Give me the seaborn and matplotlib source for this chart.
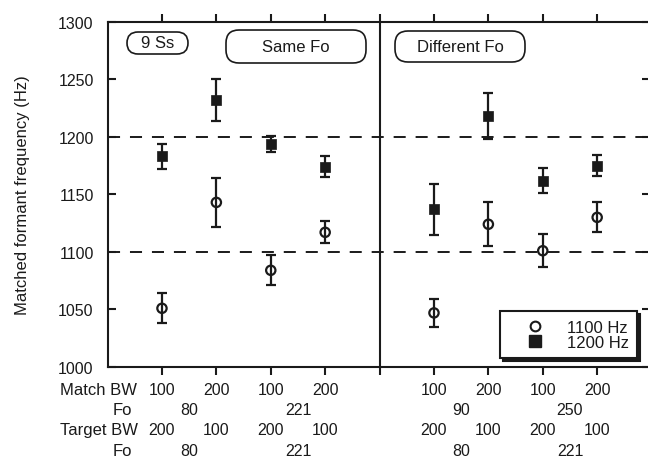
import pandas as pd
import matplotlib.pyplot as plt
import seaborn as sns
from matplotlib.lines import Line2D
from matplotlib.patches import FancyBboxPatch

# condition slots on the x axis (slot 5 is the panel divider)
slot = [1, 2, 3, 4, 6, 7, 8, 9]

# matched formant frequency (Hz), means and error bars
mean_1100 = [1051, 1143, 1084, 1117, 1047, 1124, 1101, 1130]
err_1100 = [13, 21.5, 13, 9.5, 12, 19, 14.5, 13]
mean_1200 = [1183, 1232, 1194, 1174, 1137, 1218, 1162, 1175]
err_1200 = [11, 18, 7, 9, 22, 20, 10.5, 9]

# condition table under the axis
match_bw = [100, 200, 100, 200, 100, 200, 100, 200]
target_bw = [200, 100, 200, 100, 200, 100, 200, 100]
fo_slot = [1.5, 3.5, 6.5, 8.5]
match_fo = [80, 221, 90, 250]
target_fo = [80, 221, 80, 221]

df = pd.DataFrame({
    'slot': slot * 2,
    'freq': mean_1100 + mean_1200,
    'err': err_1100 + err_1200,
    'target': ['1100 Hz'] * len(slot) + ['1200 Hz'] * len(slot),
})
d1100 = df[df['target'] == '1100 Hz']
d1200 = df[df['target'] == '1200 Hz']

sns.set_theme(style='ticks')
plt.rcParams['font.family'] = ['Liberation Sans', 'DejaVu Sans']
plt.rcParams['text.color'] = 'k'
plt.rcParams['axes.labelcolor'] = 'k'
plt.rcParams['xtick.color'] = 'k'
plt.rcParams['ytick.color'] = 'k'

fig = plt.figure(figsize=(6.48, 4.6), dpi=100)
ax = fig.add_axes([0.166, 0.2, 0.837, 0.7507])

# reference lines
ax.axhline(1200, color='k', lw=1.4, ls=(0, (6.2, 5.1)), zorder=1)
ax.axhline(1100, color='k', lw=1.4, ls=(0, (6.2, 5.1)), zorder=1)
ax.axvline(5, color='k', lw=1.5, zorder=1)

# error bars then markers
ax.errorbar(d1100['slot'], d1100['freq'], yerr=d1100['err'], fmt='none',
            ecolor='k', elinewidth=1.6, capsize=3.5, capthick=1.6, zorder=2)
ax.errorbar(d1200['slot'], d1200['freq'], yerr=d1200['err'], fmt='none',
            ecolor='k', elinewidth=1.6, capsize=3.5, capthick=1.6, zorder=2)
sns.scatterplot(data=d1100, x='slot', y='freq', marker='o', s=45,
                facecolor='none', edgecolor='k', linewidth=1.6,
                legend=False, ax=ax, zorder=3)
sns.scatterplot(data=d1200, x='slot', y='freq', marker='s', s=60,
                color='k', edgecolor='k', linewidth=0.5,
                legend=False, ax=ax, zorder=3)

ax.set_xlim(0, 9.97)
ax.set_ylim(1000, 1300)
ax.set_xticks(range(1, 10))
ax.set_xticklabels([])
ax.set_yticks(range(1000, 1301, 50))
ax.tick_params(axis='x', direction='out', top=True, bottom=True,
               length=6, width=1.5, labelbottom=False)
ax.tick_params(axis='y', direction='in', left=True, right=True,
               length=6, width=1.5, pad=10, labelsize=11.5)
for sp in ax.spines.values():
    sp.set_linewidth(1.5)
    sp.set_color('k')
ax.set_xlabel('')
ax.set_ylabel('')
fig.text(22.5 / 648, 1 - 195 / 460, 'Matched formant frequency (Hz)',
         rotation=90, ha='center', va='center', fontsize=12)

# condition table
tr = ax.get_xaxis_transform()
rows_y = [-0.066, -0.122, -0.182, -0.242]
ax.text(0.54, rows_y[0], 'Match BW', transform=tr, ha='right', va='center', fontsize=12)
ax.text(0.45, rows_y[1], 'Fo', transform=tr, ha='right', va='center', fontsize=12)
ax.text(0.56, rows_y[2], 'Target BW', transform=tr, ha='right', va='center', fontsize=12)
ax.text(0.45, rows_y[3], 'Fo', transform=tr, ha='right', va='center', fontsize=12)
for x, m, t in zip(slot, match_bw, target_bw):
    ax.text(x, rows_y[0], str(m), transform=tr, ha='center', va='center', fontsize=11.5)
    ax.text(x, rows_y[2], str(t), transform=tr, ha='center', va='center', fontsize=11.5)
for x, m, t in zip(fo_slot, match_fo, target_fo):
    ax.text(x, rows_y[1], str(m), transform=tr, ha='center', va='center', fontsize=11.5)
    ax.text(x, rows_y[3], str(t), transform=tr, ha='center', va='center', fontsize=11.5)


# rounded label boxes, given in pixel coords of the 648x460 figure
def label_box(x0, y0, x1, y1, r, text):
    W, H = 648, 460
    box = FancyBboxPatch((x0 / W, 1 - y1 / H), (x1 - x0) / W, (y1 - y0) / H,
                         boxstyle='round,pad=0,rounding_size=%f' % (r / W),
                         mutation_aspect=W / H, transform=fig.transFigure,
                         facecolor='white', edgecolor='k', lw=1.2, zorder=4)
    fig.add_artist(box)
    fig.text((x0 + x1) / 2 / W, 1 - (y0 + y1) / 2 / H, text,
             ha='center', va='center', fontsize=12, zorder=5)


label_box(127, 33, 188, 55, 11, '9 Ss')
label_box(226, 31, 366, 64, 13, 'Same Fo')
label_box(395, 32, 525, 63, 13, 'Different Fo')

handles = [
    Line2D([], [], ls='none', marker='o', ms=7, mfc='none', mec='k', mew=1.5),
    Line2D([], [], ls='none', marker='s', ms=8, mfc='k', mec='k'),
]
leg = ax.legend(handles, ['1100 Hz', '1200 Hz'], loc='lower right',
                bbox_to_anchor=(637 / 648, 1 - 359 / 460),
                bbox_transform=fig.transFigure, borderaxespad=0,
                fancybox=False, shadow={'ox': 2, 'oy': -2, 'color': 'k', 'alpha': 1},
                edgecolor='k', framealpha=1, fontsize=12, borderpad=0.5,
                handlelength=3.2, handletextpad=0.3, labelspacing=0.0)
leg.get_frame().set_linewidth(1.5)

fig.savefig('out.png', dpi=100)
